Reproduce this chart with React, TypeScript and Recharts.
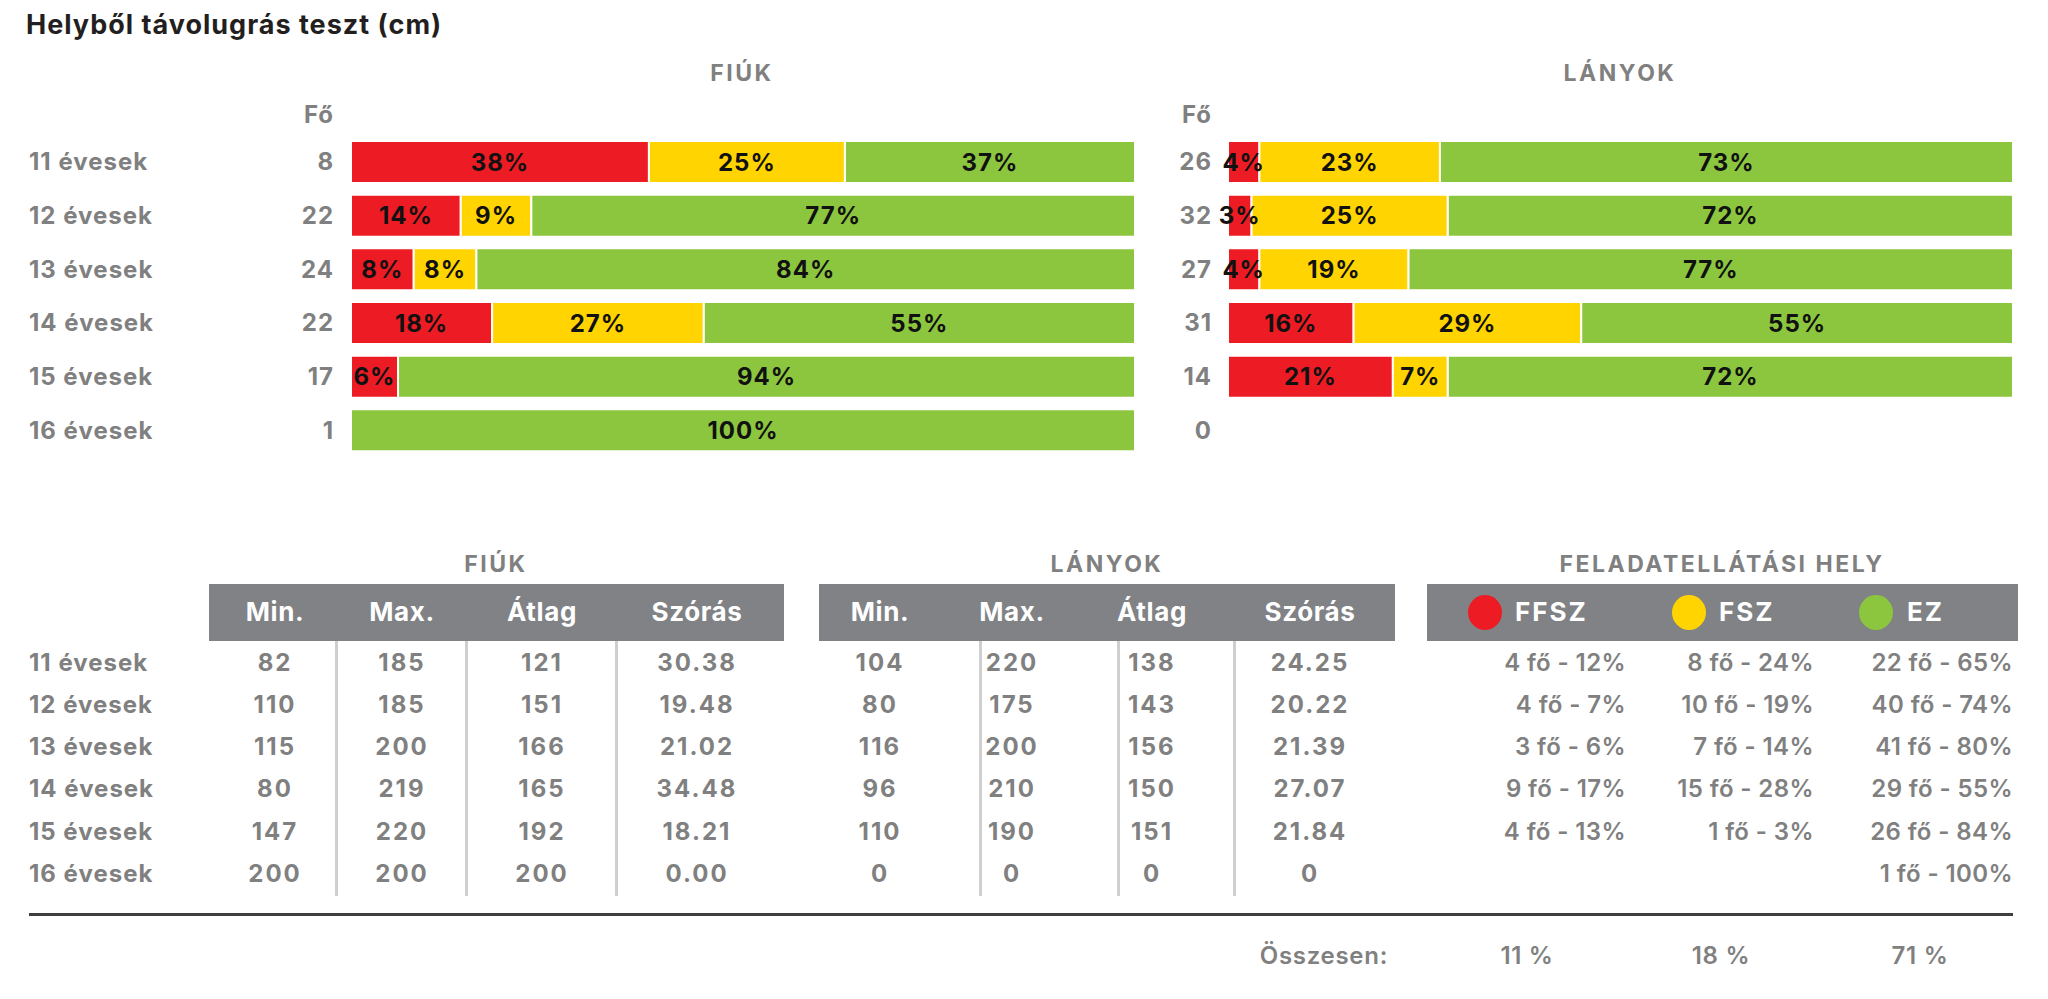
import React from 'react';
import { BarChart, Bar, XAxis, YAxis, LabelList } from 'recharts';

const ages = ['11 évesek', '12 évesek', '13 évesek', '14 évesek', '15 évesek', '16 évesek'];

// stacked percentages
const fiukCounts = [8, 22, 24, 22, 17, 1];
const fiukRed = [38, 14, 8, 18, 6, 0];
const fiukYellow = [25, 9, 8, 27, 0, 0];
const fiukGreen = [37, 77, 84, 55, 94, 100];

const lanyokCounts = [26, 32, 27, 31, 14, 0];
const lanyokRed = [4, 3, 4, 16, 21, 0];
const lanyokYellow = [23, 25, 19, 29, 7, 0];
const lanyokGreen = [73, 72, 77, 55, 72, 0];

// lower tables
const statHeaders = ['Min.', 'Max.', 'Átlag', 'Szórás'];
const fiukMin = ['82', '110', '115', '80', '147', '200'];
const fiukMax = ['185', '185', '200', '219', '220', '200'];
const fiukAvg = ['121', '151', '166', '165', '192', '200'];
const fiukSd = ['30.38', '19.48', '21.02', '34.48', '18.21', '0.00'];
const lanyokMin = ['104', '80', '116', '96', '110', '0'];
const lanyokMax = ['220', '175', '200', '210', '190', '0'];
const lanyokAvg = ['138', '143', '156', '150', '151', '0'];
const lanyokSd = ['24.25', '20.22', '21.39', '27.07', '21.84', '0'];

const placeNames = ['FFSZ', 'FSZ', 'EZ'];
const ffszFo = [4, 4, 3, 9, 4, null];
const ffszPct = [12, 7, 6, 17, 13, null];
const fszFo = [8, 10, 7, 15, 1, null];
const fszPct = [24, 19, 14, 28, 3, null];
const ezFo = [22, 40, 41, 29, 26, 1];
const ezPct = [65, 74, 80, 55, 84, 100];
const totals = ['11 %', '18 %', '71 %'];

const RED = '#ED1C24';
const YELLOW = '#FFD400';
const GREEN = '#8CC63F';
const GRAY = '#808080';
const HEAD = '#808285';
const FONT = "Inter, 'Open Sans', sans-serif";

const fiukData = ages.map((age, i) => ({ age, red: fiukRed[i], yellow: fiukYellow[i], green: fiukGreen[i] }));
const lanyokData = ages.map((age, i) => ({ age, red: lanyokRed[i], yellow: lanyokYellow[i], green: lanyokGreen[i] }));

const T = ({ x, y, a = 'start', size = 24, color = GRAY, weight = 700, ls = 1, children }: any) => {
  const tx = a === 'middle' ? '-50%' : a === 'end' ? '-100%' : '0';
  return (
    <div
      style={{
        position: 'absolute', left: x, top: y, transform: `translate(${tx}, -50%)`,
        fontSize: size, fontWeight: weight, color, lineHeight: 1, whiteSpace: 'nowrap', fontFamily: FONT,
        letterSpacing: ls, marginRight: a === 'start' ? 0 : -ls,
      }}
    >
      {children}
    </div>
  );
};

const pct = (v: any) => (v > 0 ? `${v}%` : '');

const labelProps = {
  position: 'center' as const, formatter: pct, fill: '#111', fontSize: 24, fontWeight: 700, fontFamily: FONT,
  style: { letterSpacing: 1 },
};

const segments = (
  [
    ['red', RED],
    ['yellow', YELLOW],
    ['green', GREEN],
  ] as const
).map(([key, color]) => (
  <Bar key={key} dataKey={key} stackId="a" fill={color} barSize={42} stroke="#fff" strokeWidth={2} isAnimationActive={false}>
    <LabelList dataKey={key} {...labelProps} />
  </Bar>
));

const fiukTick = (props: any) => {
  const { y, payload } = props;
  const i = ages.indexOf(payload.value);
  return (
    <g fontFamily={FONT} fontWeight={700} fontSize={24} fill={GRAY} style={{ letterSpacing: 1 }}>
      <text x={29} y={y} dy="0.36em" textAnchor="start">{payload.value}</text>
      <text x={334} y={y} dy="0.36em" textAnchor="end">{fiukCounts[i]}</text>
    </g>
  );
};

const lanyokTick = (props: any) => {
  const { y, payload } = props;
  const i = ages.indexOf(payload.value);
  return (
    <text x={112} y={y} dy="0.36em" textAnchor="end" fontFamily={FONT} fontWeight={700} fontSize={24} fill={GRAY} style={{ letterSpacing: 1 }}>
      {lanyokCounts[i]}
    </text>
  );
};

const rowY = [663, 705, 747, 789, 832, 874];

const StatTable = ({ left, right, cols, seps, cells }: any) => (
  <>
    <div style={{ position: 'absolute', left, top: 584, width: right - left, height: 57, background: HEAD }} />
    {statHeaders.map((h, j) => (
      <T key={h} x={cols[j]} y={612} a="middle" size={26} ls={0.6} color="#fff">{h}</T>
    ))}
    {seps.map((sx: number) => (
      <div key={sx} style={{ position: 'absolute', left: sx - 1.5, top: 641, width: 3, height: 255, background: '#cfcfcf' }} />
    ))}
    {cells.map((col: string[], j: number) =>
      col.map((v, i) => (
        <T key={`${j}-${i}`} x={cols[j]} y={rowY[i]} a="middle" ls={2}>{v}</T>
      ))
    )}
  </>
);

export default function App() {
  return (
    <div style={{ position: 'absolute', left: 0, top: 0, width: 2048, height: 999, background: '#fff', overflow: 'hidden', fontFamily: FONT }}>
      <T x={26} y={24} size={27} ls={1} color="#231f20">Helyből távolugrás teszt (cm)</T>

      <T x={742} y={73} a="middle" size={23} ls={2.5}>FIÚK</T>
      <T x={1620} y={73} a="middle" size={23} ls={2.5}>LÁNYOK</T>
      <T x={334} y={115} a="end">Fő</T>
      <T x={1212} y={115} a="end">Fő</T>

      <div style={{ position: 'absolute', left: 0, top: 0 }}>
        <BarChart width={1150} height={480} data={fiukData} layout="vertical" margin={{ top: 135, right: 15, bottom: 23, left: 0 }}>
          <XAxis type="number" domain={[0, 100]} hide />
          <YAxis type="category" dataKey="age" width={351} tickLine={false} axisLine={false} tick={fiukTick} interval={0} />
          {segments}
        </BarChart>
      </div>

      <div style={{ position: 'absolute', left: 1100, top: 0 }}>
        <BarChart width={928} height={480} data={lanyokData} layout="vertical" margin={{ top: 135, right: 15, bottom: 23, left: 0 }}>
          <XAxis type="number" domain={[0, 100]} hide />
          <YAxis type="category" dataKey="age" width={128} tickLine={false} axisLine={false} tick={lanyokTick} interval={0} />
          {segments}
        </BarChart>
      </div>

      {/* lower tables */}
      <T x={496} y={564} a="middle" size={23} ls={2.5}>FIÚK</T>
      <T x={1107} y={564} a="middle" size={23} ls={2.5}>LÁNYOK</T>
      <T x={1722} y={564} a="middle" size={23} ls={2.5}>FELADATELLÁTÁSI HELY</T>

      {ages.map((a, i) => (
        <T key={a} x={29} y={rowY[i]}>{a}</T>
      ))}

      <StatTable left={209} right={784} cols={[275, 402, 542, 697]} seps={[336, 466, 616]} cells={[fiukMin, fiukMax, fiukAvg, fiukSd]} />
      <StatTable left={819} right={1395} cols={[880, 1012, 1152, 1310]} seps={[980, 1118, 1234]} cells={[lanyokMin, lanyokMax, lanyokAvg, lanyokSd]} />

      <div style={{ position: 'absolute', left: 1427, top: 584, width: 591, height: 57, background: HEAD }} />
      {[RED, YELLOW, GREEN].map((c, j) => (
        <div key={c} style={{ position: 'absolute', left: [1485, 1689, 1876][j] - 17, top: 595, width: 34, height: 35, borderRadius: '50%', background: c }} />
      ))}
      {placeNames.map((n, j) => (
        <T key={n} x={[1515, 1719, 1907][j]} y={612} size={26} ls={2} color="#fff">{n}</T>
      ))}
      {ages.map((a, i) => (
        <React.Fragment key={a}>
          {ffszFo[i] != null && <T x={1626} y={rowY[i]} a="end" weight={600} ls={0.4}>{`${ffszFo[i]} fő - ${ffszPct[i]}%`}</T>}
          {fszFo[i] != null && <T x={1814} y={rowY[i]} a="end" weight={600} ls={0.4}>{`${fszFo[i]} fő - ${fszPct[i]}%`}</T>}
          <T x={2013} y={rowY[i]} a="end" weight={600} ls={0.4}>{`${ezFo[i]} fő - ${ezPct[i]}%`}</T>
        </React.Fragment>
      ))}

      <div style={{ position: 'absolute', left: 29, top: 913, width: 1984, height: 3, background: '#3f3f3f' }} />

      <T x={1388} y={956} a="end" weight={600} ls={0.7}>Összesen:</T>
      {totals.map((t, j) => (
        <T key={t} x={[1527, 1721, 1920][j]} y={956} a="middle" weight={600} ls={0.7}>{t}</T>
      ))}
    </div>
  );
}
